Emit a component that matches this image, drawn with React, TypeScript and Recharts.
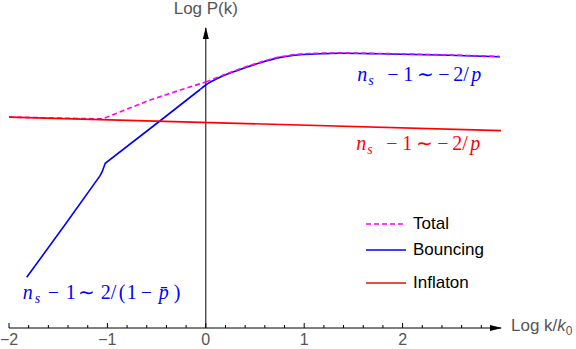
import { LineChart, Line, XAxis, YAxis, ReferenceLine, ReferenceDot, Legend } from "recharts";

// x = Log k/k0, y = Log P(k) (arbitrary units)
const xTicks = [-2, -1.8, -1.6, -1.4, -1.2, -1, -0.8, -0.6, -0.4, -0.2, 0, 0.2, 0.4, 0.6, 0.8, 1, 1.2, 1.4, 1.6, 1.8, 2, 2.2, 2.4, 2.6, 2.8];

const inflaton = [
  { k: -2, p: 7.03 },
  { k: 3, p: 6.58 },
];

// rising power law with the kink near k = -1
const bouncingRise = [
  { k: -1.82, p: 1.69 },
  { k: -1.42, p: 3.49 },
  { k: -1.076, p: 5.07 },
  { k: -1.053, p: 5.21 },
  { k: -1.032, p: 5.4 },
  { k: -1.022, p: 5.49 },
  { k: -0.467, p: 6.9 },
  { k: -0.058, p: 7.95 },
];

// smooth turnover to the plateau
const bouncingTop = [
  { k: -0.058, p: 7.95 },
  { k: 0, p: 8.1 },
  { k: 0.145, p: 8.36 },
  { k: 0.349, p: 8.62 },
  { k: 0.552, p: 8.84 },
  { k: 0.756, p: 9.02 },
  { k: 0.959, p: 9.11 },
  { k: 1.163, p: 9.14 },
  { k: 1.366, p: 9.16 },
  { k: 1.773, p: 9.14 },
  { k: 2.38, p: 9.1 },
  { k: 2.99, p: 9.04 },
];

const totalRise = [
  { k: -2, p: 7.03 },
  { k: -1.05, p: 6.97 },
  { k: -0.567, p: 7.6 },
  { k: -0.262, p: 7.93 },
  { k: 0, p: 8.2 },
];

const totalTop = [
  { k: 0, p: 8.2 },
  { k: 0.349, p: 8.64 },
  { k: 0.552, p: 8.86 },
  { k: 0.756, p: 9.04 },
  { k: 0.959, p: 9.13 },
  { k: 1.163, p: 9.16 },
  { k: 1.366, p: 9.17 },
  { k: 1.773, p: 9.15 },
  { k: 2.38, p: 9.11 },
  { k: 2.99, p: 9.05 },
];

const legendItems = [
  { name: "Total", color: "#ff00ff", dash: "5 3" },
  { name: "Bouncing", color: "#0000ff", dash: "" },
  { name: "Inflaton", color: "#cc1a00", dash: "" },
];

// [text, x offset, kind]
type Piece = [string, number, "i" | "r" | "sub"];
const slopeLabel: Piece[] = [
  ["n", 0, "i"], ["s", 11, "sub"], ["\u2212", 30, "r"], ["1", 46, "r"], ["\u223C", 60, "r"],
  ["\u2212", 81, "r"], ["2", 96, "r"], ["/", 106, "r"], ["p", 114, "i"],
];
const bounceLabel: Piece[] = [
  ["n", 0, "i"], ["s", 12, "sub"], ["\u2212", 25, "r"], ["1", 43, "r"], ["\u223C", 55, "r"],
  ["2", 78, "r"], ["/", 88, "r"], ["(", 96, "r"], ["1", 104, "r"], ["\u2212", 118, "r"],
  ["p\u0304", 136, "i"], [")", 151, "r"],
];

const sans = "'Liberation Sans', Arial, sans-serif";
const serif = "'Liberation Serif', 'Times New Roman', serif";

const MathText = ({ x, y, pieces, color }: { x: number; y: number; pieces: Piece[]; color: string }) => (
  <text fill={color} fontFamily={serif} fontSize={20}>
    {pieces.map(([t, dx, kind], i) => (
      <tspan
        key={i}
        x={x + dx}
        y={kind === "sub" ? y + 4 : y}
        fontStyle={kind === "r" ? "normal" : "italic"}
        fontSize={kind === "sub" ? 14 : 20}
      >
        {t}
      </tspan>
    ))}
  </text>
);

const AxisTick = (props: any) => {
  const { x, y, payload } = props;
  const v = payload.value;
  const major = Math.abs(v - Math.round(v)) < 1e-6;
  return (
    <g>
      <line x1={x} x2={x} y1={y} y2={y - (major ? 5 : 3)} stroke="#000" strokeWidth={1} />
      {major && (
        <text x={x} y={y + 17} textAnchor="middle" fontSize={16} fill="#555" fontFamily={sans}>
          {v < 0 ? `\u2212${-v}` : `${v}`}
        </text>
      )}
    </g>
  );
};

const rowTops = [2, 28, 61];

const LegendBox = () => (
  <div style={{ position: "relative", width: 130, height: 82, fontFamily: sans, fontSize: 17, color: "#000" }}>
    {legendItems.map((it, i) => (
      <div key={it.name} style={{ position: "absolute", top: rowTops[i], left: 0, height: 20, display: "flex", alignItems: "center" }}>
        <svg width={40} height={4} style={{ display: "block" }}>
          <line x1={0} x2={40} y1={2} y2={2} stroke={it.color} strokeWidth={1.6} strokeDasharray={it.dash} />
        </svg>
        <span style={{ marginLeft: 7, lineHeight: "20px" }}>{it.name}</span>
      </div>
    ))}
  </div>
);

const lineProps = { dataKey: "p", dot: false, strokeWidth: 1.6, isAnimationActive: false };

export default function App() {
  return (
    <div style={{ position: "absolute", left: 0, top: 0, width: 576, height: 349, background: "#fff" }}>
      <LineChart width={576} height={349} margin={{ top: 28, right: 75, bottom: 0, left: 9 }}>
        <XAxis
          type="number"
          dataKey="k"
          domain={[-2, 3]}
          ticks={xTicks}
          interval={0}
          tick={<AxisTick />}
          tickLine={false}
          tickSize={0}
          tickMargin={0}
          height={21}
          axisLine={{ stroke: "#000", strokeWidth: 1 }}
          allowDataOverflow
        />
        <YAxis type="number" dataKey="p" domain={[0, 10]} hide allowDataOverflow />
        <ReferenceLine x={0} stroke="#000" strokeWidth={1} />
        <Line {...lineProps} data={bouncingRise} name="Bouncing" type="linear" stroke="#0000ff" />
        <Line {...lineProps} data={bouncingTop} name="Bouncing" type="monotone" stroke="#0000ff" />
        <Line {...lineProps} data={totalRise} name="Total" type="linear" stroke="#ff00ff" strokeDasharray="5 3" />
        <Line {...lineProps} data={totalTop} name="Total" type="monotone" stroke="#ff00ff" strokeDasharray="5 3" />
        <Line {...lineProps} data={inflaton} name="Inflaton" type="linear" stroke="#ff0000" />
        <ReferenceDot
          x={0}
          y={10}
          r={0}
          ifOverflow="visible"
          shape={(p: any) => (
            <g>
              <path d={`M${p.cx},${p.cy - 1} L${p.cx - 3},${p.cy + 11} L${p.cx + 3},${p.cy + 11} Z`} fill="#000" />
              <text x={p.cx} y={p.cy - 14.5} textAnchor="middle" fontSize={17} fill="#555" fontFamily={sans}>
                Log P(k)
              </text>
            </g>
          )}
        />
        <ReferenceDot
          x={3}
          y={0}
          r={0}
          ifOverflow="visible"
          shape={(p: any) => (
            <g>
              <path d={`M${p.cx + 1},${p.cy} L${p.cx - 11},${p.cy - 3} L${p.cx - 11},${p.cy + 3} Z`} fill="#000" />
              <text x={p.cx + 10} y={p.cy + 3} fontSize={17} fill="#555" fontFamily={sans}>
                Log k/<tspan fontStyle="italic">k</tspan>
                <tspan fontSize={12} dy={4}>0</tspan>
              </text>
            </g>
          )}
        />
        <ReferenceDot x={1.54} y={8.22} r={0} shape={(p: any) => <MathText x={p.cx} y={p.cy} pieces={slopeLabel} color="#0000ff" />} />
        <ReferenceDot x={1.53} y={5.95} r={0} shape={(p: any) => <MathText x={p.cx} y={p.cy} pieces={slopeLabel} color="#ff0000" />} />
        <ReferenceDot x={-1.86} y={0.97} r={0} shape={(p: any) => <MathText x={p.cx} y={p.cy} pieces={bounceLabel} color="#0000ff" />} />
        <Legend
          layout="vertical"
          align="center"
          verticalAlign="middle"
          wrapperStyle={{ left: 366, top: 212, width: 130 }}
          content={() => <LegendBox />}
        />
      </LineChart>
    </div>
  );
}
